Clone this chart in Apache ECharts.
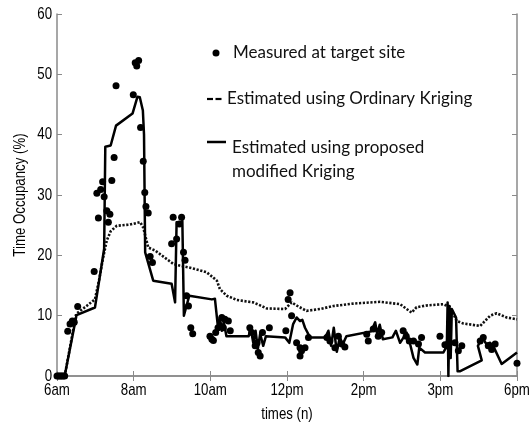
<!DOCTYPE html>
<html>
<head>
<meta charset="utf-8">
<script src="https://cdn.jsdelivr.net/npm/echarts@6/dist/echarts.min.js"></script>
<style>
  html, body { margin: 0; padding: 0; background: #fff; }
  #chart { width: 529px; height: 425px; }
</style>
</head>
<body>
<div id="chart"></div>
<script>
// Time of day in hours (6 = 6am, 18 = 6pm)
const xTickValues = [6, 8, 10, 12, 14, 16, 18];
const xTickLabels = ['6am', '8am', '10am', '12pm', '2pm', '3pm', '6pm'];
const yTickValues = [0, 10, 20, 30, 40, 50, 60];

// Measured occupancy at the target site
const measuredTimes = [6.0, 6.04, 6.08, 6.12, 6.16, 6.2, 6.28, 6.34, 6.4, 6.45, 6.54, 6.97, 7.04, 7.08, 7.14, 7.19, 7.23, 7.3, 7.34, 7.38, 7.43, 7.49, 7.54, 7.99, 8.04, 8.08, 8.13, 8.18, 8.25, 8.29, 8.32, 8.38, 8.43, 8.49, 8.99, 9.03, 9.12, 9.19, 9.25, 9.3, 9.34, 9.38, 9.43, 9.49, 9.54, 9.99, 10.04, 10.08, 10.14, 10.2, 10.3, 10.34, 10.38, 10.47, 10.52, 11.03, 11.08, 11.17, 11.22, 11.25, 11.3, 11.36, 11.54, 11.97, 12.03, 12.08, 12.12, 12.25, 12.34, 12.38, 12.34, 12.47, 12.56, 13.04, 13.12, 13.25, 13.34, 13.43, 13.51, 14.08, 14.12, 14.25, 14.38, 14.47, 15.03, 15.11, 15.19, 15.3, 15.43, 15.51, 15.99, 16.12, 16.17, 16.22, 16.38, 16.47, 16.56, 17.04, 17.12, 17.25, 17.34, 17.43, 18.0];
const measuredValues = [0, 0, 0, 0, 0, 0, 7.4, 8.6, 9.1, 8.9, 11.5, 17.3, 30.3, 26.2, 30.9, 32.2, 29.7, 27.4, 25.5, 26.8, 32.4, 36.2, 48.1, 46.6, 51.9, 51.4, 52.3, 41.2, 35.6, 30.4, 28.1, 27.0, 19.8, 18.8, 21.9, 26.3, 22.7, 25.2, 26.3, 20.5, 19.2, 13.3, 11.6, 8.0, 7.0, 6.6, 6.1, 5.9, 7.2, 8.0, 9.7, 8.0, 9.4, 9.1, 7.5, 8.0, 7.2, 5.0, 5.5, 3.9, 3.3, 7.2, 8.0, 7.5, 12.7, 13.8, 10.0, 5.5, 4.7, 4.2, 3.3, 4.7, 6.4, 6.4, 5.8, 4.7, 6.6, 5.3, 4.8, 6.9, 5.8, 7.8, 6.6, 7.2, 7.5, 6.6, 5.8, 5.8, 5.3, 6.4, 6.6, 5.2, 5.0, 5.5, 5.5, 4.2, 5.0, 5.8, 6.4, 5.0, 4.4, 5.3, 2.1];

// Ordinary Kriging estimate
const ordinaryTimes = [6.0, 6.2, 6.5, 6.75, 6.99, 7.1, 7.2, 7.3, 7.4, 7.56, 7.9, 8.17, 8.25, 8.38, 8.56, 9.03, 9.2, 9.5, 9.9, 10.08, 10.17, 10.25, 10.43, 10.69, 11.12, 11.3, 11.47, 11.95, 12.12, 12.3, 12.51, 12.86, 13.21, 13.73, 14.43, 14.95, 15.25, 15.38, 15.65, 16.08, 16.25, 16.43, 16.6, 17.04, 17.3, 17.47, 17.73, 18.0];
const ordinaryValues = [0, 0, 10.3, 11.5, 12.7, 16.0, 19.5, 22.5, 24.0, 24.9, 25.1, 25.5, 24.6, 21.3, 20.8, 18.6, 18.3, 17.9, 17.2, 16.3, 15.8, 14.4, 13.3, 12.6, 12.2, 11.7, 11.2, 11.1, 12.2, 11.5, 10.8, 11.1, 11.6, 12.0, 12.3, 11.9, 10.5, 11.4, 11.7, 11.9, 11.4, 9.1, 8.7, 8.3, 10.0, 10.4, 9.7, 9.4];

// Proposed modified Kriging estimate
const modifiedTimes = [6.0, 6.2, 6.51, 6.99, 7.23, 7.26, 7.4, 7.54, 7.97, 8.1, 8.16, 8.24, 8.27, 8.3, 8.51, 8.99, 9.08, 9.12, 9.2, 9.27, 9.31, 9.45, 10.04, 10.12, 10.2, 10.25, 10.3, 10.35, 10.42, 11.0, 11.05, 11.12, 11.18, 11.24, 11.3, 11.38, 11.45, 11.95, 12.06, 12.16, 12.25, 12.34, 12.4, 12.47, 12.6, 13.0, 13.08, 13.15, 13.22, 13.3, 13.38, 13.45, 13.55, 14.2, 14.3, 14.35, 14.42, 14.5, 14.75, 14.84, 14.95, 15.12, 15.2, 15.3, 15.4, 15.45, 15.6, 16.08, 16.17, 16.19, 16.21, 16.24, 16.27, 16.3, 16.41, 16.45, 16.52, 17.08, 16.98, 17.05, 17.12, 17.2, 17.3, 17.4, 17.45, 17.6, 18.0];
const modifiedValues = [0, 0, 10.1, 11.35, 21.1, 38.0, 38.2, 41.5, 43.5, 46.3, 46.2, 44.0, 40.0, 20.5, 15.8, 15.3, 12.2, 25.5, 25.2, 25.7, 10.0, 13.3, 12.7, 12.8, 8.0, 9.7, 7.5, 9.0, 6.6, 6.6, 8.0, 5.5, 7.5, 4.5, 7.0, 5.0, 6.6, 6.4, 5.5, 8.6, 9.7, 9.1, 9.3, 8.0, 6.4, 6.4, 7.5, 5.0, 8.0, 4.0, 6.5, 5.2, 6.6, 7.4, 8.9, 7.0, 8.5, 6.1, 6.4, 7.5, 5.5, 7.2, 5.6, 3.0, 1.9, 4.7, 3.9, 3.9, 5.0, 12.2, 0, 11.6, 3.0, 11.1, 9.7, 0.8, 0.8, 2.6, 5.0, 5.8, 6.1, 5.3, 5.5, 4.7, 4.5, 2.0, 3.9];

const zip = (xs, ys) => xs.map((x, i) => [x, ys[i]]);

const axisGray = '#8a8a8a';
const axisFont = '17px "Liberation Sans", Arial, sans-serif';
const narrow = 0.78;  // horizontal squeeze for a narrow axis face
const legendFont = '17px Lato, "Open Sans", sans-serif';

const chart = echarts.init(document.getElementById('chart'), null, { renderer: 'canvas' });

const frameAxis = (extra) => Object.assign({
  type: 'value',
  axisLine: { show: true, lineStyle: { color: axisGray, width: 1.5 } },
  axisTick: { show: true, inside: true, length: 5, lineStyle: { color: axisGray } },
  axisLabel: { show: false },
  splitLine: { show: false }
}, extra);

chart.setOption({
  animation: false,
  backgroundColor: '#fff',
  grid: { left: 57, right: 12, top: 14, bottom: 49 },
  xAxis: [
    frameAxis({ min: xTickValues[0], max: xTickValues[xTickValues.length - 1], interval: 2 }),
    frameAxis({ min: xTickValues[0], max: xTickValues[xTickValues.length - 1], interval: 2, position: 'top' })
  ],
  yAxis: [
    frameAxis({ min: yTickValues[0], max: yTickValues[yTickValues.length - 1], interval: 10 }),
    frameAxis({ min: yTickValues[0], max: yTickValues[yTickValues.length - 1], interval: 10, position: 'right' })
  ],
  series: [
    {
      name: 'Estimated using Ordinary Kriging',
      type: 'line',
      data: zip(ordinaryTimes, ordinaryValues),
      symbol: 'none',
      lineStyle: { color: '#111', width: 2.6, type: [2.2, 1.6] },
      z: 2
    },
    {
      name: 'Estimated using proposed modified Kriging',
      type: 'line',
      data: zip(modifiedTimes, modifiedValues),
      symbol: 'none',
      lineStyle: { color: '#000', width: 2.5, join: 'round' },
      z: 3
    },
    {
      name: 'Measured at target site',
      type: 'scatter',
      data: zip(measuredTimes, measuredValues),
      symbol: 'circle',
      symbolSize: 7,
      itemStyle: { color: '#000', opacity: 1 },
      z: 4
    }
  ]
});

// Axis texts in a narrow face, placed through the axes' own scales
const px = (v) => chart.convertToPixel({ xAxisIndex: 0 }, v);
const py = (v) => chart.convertToPixel({ yAxisIndex: 0 }, v);
const axisText = (text, x, y, align, rotation) => ({
  type: 'text', x, y, rotation: rotation || 0, scaleX: narrow, silent: true,
  style: { text, font: axisFont, fill: '#000', align, verticalAlign: 'middle' }
});

const plotLeft = px(xTickValues[0]);
const plotRight = px(xTickValues[xTickValues.length - 1]);
const plotBottom = py(yTickValues[0]);
const plotTop = py(yTickValues[yTickValues.length - 1]);

const axisTexts = [];
xTickValues.forEach((v, i) => axisTexts.push(axisText(xTickLabels[i], px(v), plotBottom + 14, 'center')));
yTickValues.forEach((v) => axisTexts.push(axisText(String(v), plotLeft - 5, py(v), 'right')));
axisTexts.push(axisText('times (n)', (plotLeft + plotRight) / 2, plotBottom + 38, 'center'));
axisTexts.push(axisText('Time Occupancy (%)', plotLeft - 37, (plotTop + plotBottom) / 2, 'center', Math.PI / 2));

// Legend
const legendItems = [
  { type: 'circle', shape: { cx: 216, cy: 53, r: 3.5 }, style: { fill: '#000' } },
  { type: 'text', x: 233, y: 53, style: { text: 'Measured at target site', font: legendFont, fill: '#111', verticalAlign: 'middle' } },
  { type: 'line', shape: { x1: 207, y1: 99, x2: 213, y2: 99 }, style: { stroke: '#000', lineWidth: 2.2 } },
  { type: 'line', shape: { x1: 215.5, y1: 99, x2: 221.5, y2: 99 }, style: { stroke: '#000', lineWidth: 2.2 } },
  { type: 'text', x: 227, y: 99, style: { text: 'Estimated using Ordinary Kriging', font: legendFont, fill: '#111', verticalAlign: 'middle' } },
  { type: 'line', shape: { x1: 207, y1: 142, x2: 226, y2: 142 }, style: { stroke: '#000', lineWidth: 2.5 } },
  { type: 'text', x: 232, y: 160, style: { text: 'Estimated using proposed\nmodified Kriging', font: legendFont, lineHeight: 24, fill: '#111', verticalAlign: 'middle' } }
];

chart.setOption({ graphic: axisTexts.concat(legendItems) });
</script>
</body>
</html>
